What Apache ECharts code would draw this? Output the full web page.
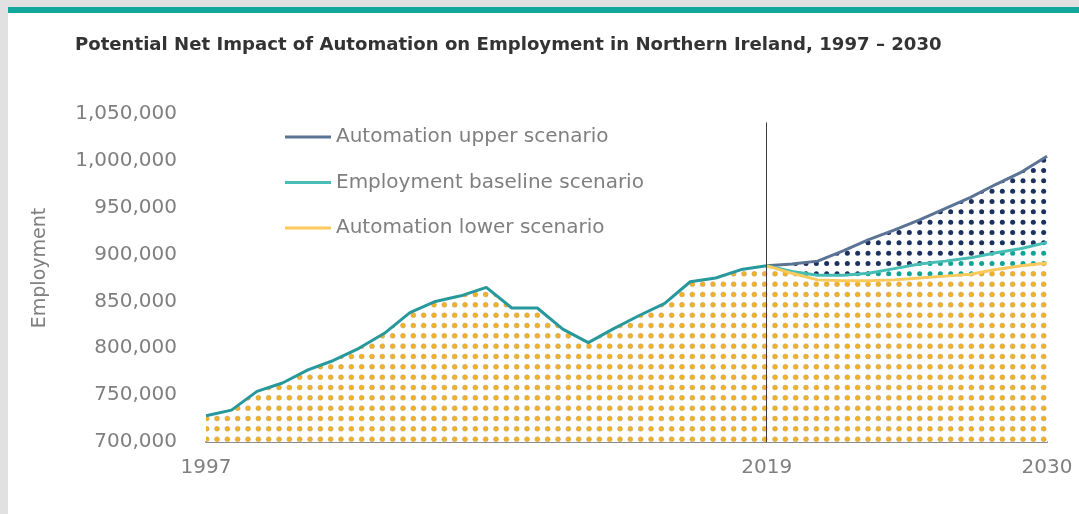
<!DOCTYPE html>
<html>
<head>
    <meta charset="utf-8">
    <title>Automation and employment - Northern Ireland</title>
    <script src="https://cdn.jsdelivr.net/npm/echarts@6/dist/echarts.min.js"></script>
    <style>
        html, body { margin: 0; padding: 0; }
        body { width: 1079px; height: 514px; background: #e1e1e1; position: relative; overflow: hidden; }
        .panel { position: absolute; left: 8px; top: 7px; right: 0; bottom: 0; background: #fff; border-top: 6px solid #13a79e; }
        #chart { position: absolute; left: 0; top: 0; width: 1079px; height: 514px; }
    </style>
</head>
<body>
<div class="panel"></div>
<div id="chart"></div>
<script>
    var years = ['1997', '1998', '1999', '2000', '2001', '2002', '2003', '2004', '2005', '2006', '2007', '2008',
        '2009', '2010', '2011', '2012', '2013', '2014', '2015', '2016', '2017', '2018', '2019',
        '2020', '2021', '2022', '2023', '2024', '2025', '2026', '2027', '2028', '2029', '2030'];
    var xTickLabels = ['1997', '2019', '2030'];

    // 1997 - 2019
    var histVals = [728000, 734000, 754000, 763000, 777000, 787000, 800000, 816000, 838000, 850000, 856000, 865000,
        843000, 843000, 820500, 806000, 821000, 835000, 848000, 871000, 875000, 884000, 888000];
    // 2020 - 2030
    var upperProj = [890000, 893000, 904000, 916000, 926000, 937000, 949000, 961000, 975000, 988000, 1005000];
    var baseProj = [882000, 878000, 878000, 880000, 885000, 890000, 893000, 896500, 902000, 906500, 913000];
    var lowerProj = [880000, 873000, 872000, 872000, 873000, 875000, 877000, 879000, 884000, 888000, 891000];

    var splitYear = '2019';

    function projLine(proj) {
        return histVals.map(function (v, i) { return i === histVals.length - 1 ? v : null; }).concat(proj);
    }

    // dotted fill used by the areas
    function dots(color, rim) {
        var c = document.createElement('canvas');
        c.width = 31; c.height = 31;
        var ctx = c.getContext('2d');
        ctx.fillStyle = '#ffffff';
        ctx.fillRect(0, 0, 31, 31);
        for (var i = 0; i <= 3; i++) {
            for (var j = 0; j < 3; j++) {
                ctx.beginPath();
                ctx.arc(i * 31 / 3, 5.17 + j * 31 / 3, 2.5, 0, Math.PI * 2);
                ctx.fillStyle = color;
                ctx.fill();
                if (rim) {
                    ctx.lineWidth = 0.7;
                    ctx.strokeStyle = rim;
                    ctx.stroke();
                }
            }
        }
        return {image: c, repeat: 'repeat'};
    }

    var chart = echarts.init(document.getElementById('chart'));
    var labelFont = 'DejaVu Sans';
    var grey = '#7f7f7f';

    var option = {
        animation: false,
        title: {
            text: 'Potential Net Impact of Automation on Employment in Northern Ireland, 1997 \u2013 2030',
            left: 70,
            top: 31,
            textStyle: {fontFamily: 'DejaVu Sans', fontWeight: 'bold', fontSize: 18.1, color: '#333333'}
        },
        legend: {
            orient: 'vertical',
            left: 280,
            top: 120,
            icon: 'rect',
            itemWidth: 46,
            itemHeight: 3,
            itemGap: 21.5,
            textStyle: {fontFamily: labelFont, fontSize: 20, color: grey, lineHeight: 24},
            data: ['Automation upper scenario', 'Employment baseline scenario', 'Automation lower scenario']
        },
        grid: {left: 206, right: 32, top: 114, bottom: 72},
        xAxis: {
            type: 'category',
            data: years,
            boundaryGap: false,
            axisLine: {lineStyle: {color: '#8c8c8c', width: 2}},
            axisTick: {show: false},
            axisLabel: {
                interval: function (idx, val) { return xTickLabels.indexOf(val) >= 0; },
                margin: 16,
                fontFamily: labelFont, fontSize: 20, color: grey
            }
        },
        yAxis: {
            type: 'value',
            min: 700000,
            max: 1050000,
            interval: 50000,
            axisLine: {show: false},
            axisTick: {show: false},
            splitLine: {show: false},
            axisLabel: {
                margin: 29,
                fontFamily: labelFont, fontSize: 20, color: grey,
                formatter: function (v) { return v.toLocaleString('en-US'); }
            }
        },
        graphic: [{
            type: 'text',
            x: 40, y: 268,
            rotation: Math.PI / 2,
            style: {text: 'Employment', fontFamily: labelFont, fontSize: 19, fill: grey, align: 'center', verticalAlign: 'middle'}
        }],
        series: [
            {
                type: 'line', name: 'upperArea', data: histVals.concat(upperProj),
                showSymbol: false, lineStyle: {width: 0},
                areaStyle: {color: dots('#1b3160'), opacity: 1}
            },
            {
                type: 'line', name: 'baseArea', data: histVals.concat(baseProj),
                showSymbol: false, lineStyle: {width: 0},
                areaStyle: {color: dots('#0fa596'), opacity: 1}
            },
            {
                type: 'line', name: 'lowerArea', data: histVals.concat(lowerProj),
                showSymbol: false, lineStyle: {width: 0},
                areaStyle: {color: dots('#f5b120', 'rgba(170,160,140,0.6)'), opacity: 1},
                markLine: {
                    silent: true, symbol: 'none', label: {show: false},
                    lineStyle: {color: '#3a3a3a', width: 1, type: 'solid'},
                    data: [[{coord: [splitYear, 1041000]}, {coord: [splitYear, 700000]}]]
                }
            },
            {
                type: 'line', name: 'history', data: histVals,
                showSymbol: false, color: '#27999c',
                lineStyle: {width: 3, color: '#27999c'}
            },
            {
                type: 'line', name: 'Automation upper scenario', data: projLine(upperProj),
                showSymbol: false, color: '#5b7395',
                lineStyle: {width: 3, color: '#5b7395'}
            },
            {
                type: 'line', name: 'Employment baseline scenario', data: projLine(baseProj),
                showSymbol: false, color: '#47bdb6',
                lineStyle: {width: 3, color: '#47bdb6'}
            },
            {
                type: 'line', name: 'Automation lower scenario', data: projLine(lowerProj),
                showSymbol: false, color: '#fbc95c',
                lineStyle: {width: 3, color: '#fbc95c'}
            }
        ]
    };
    chart.setOption(option);
</script>
</body>
</html>
